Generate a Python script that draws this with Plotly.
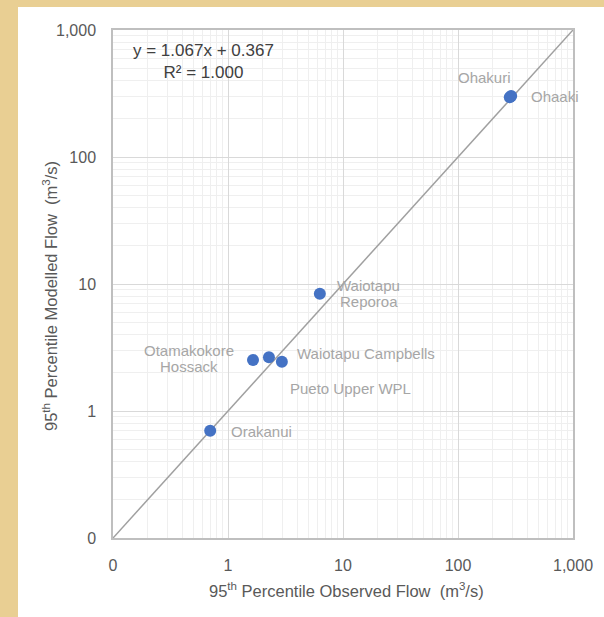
import math
import plotly.graph_objects as go

# ---- data ----
sites = ["Orakanui", "Otamakokore Hossack", "Waiotapu Campbells", "Pueto Upper WPL",
         "Waiotapu Reporoa", "Ohakuri", "Ohaaki"]
label_lines = [["Orakanui"], ["Otamakokore", "Hossack"], ["Waiotapu Campbells"], ["Pueto Upper WPL"],
               ["Waiotapu", "Reporoa"], ["Ohakuri"], ["Ohaaki"]]
observed = [0.70, 1.65, 2.27, 2.94, 6.29, 282, 290]
modelled = [0.70, 2.52, 2.65, 2.44, 8.39, 296, 302]
one_to_one = [0.1, 1000]
tick_vals = [0.1, 1, 10, 100, 1000]
tick_text = ["0", "1", "10", "100", "1,000"]
minor_vals = [m * 10 ** e for e in range(-1, 3) for m in range(2, 10)]
equation = "y = 1.067x + 0.367<br>R² = 1.000"

# label offsets (pixels) relative to the point
label_dx = [19, -64, 97, 69, 49, -25, 18]
label_dy = [-1, 2, 4, -27, 0, 20, 0]
label_anchor = ["left", "center", "center", "center", "center", "center", "left"]
LINE_GAP = 16

FONT = "Liberation Sans, Arial, sans-serif"
BEIGE = "#E9CF93"
W, H = 604, 617
L, R, T, B = 113, 31, 30, 79
pw, ph = W - L - R, H - T - B

fig = go.Figure()
fig.add_trace(go.Scatter(x=one_to_one, y=one_to_one, mode="lines",
                         line=dict(color="#a0a0a0", width=1.5), hoverinfo="skip", showlegend=False))
fig.add_trace(go.Scatter(x=observed, y=modelled, mode="markers", text=sites,
                         marker=dict(color="#4472C4", size=12), showlegend=False))

for xv, yv, lines, dx, dy, anc in zip(observed, modelled, label_lines, label_dx, label_dy, label_anchor):
    n = len(lines)
    for i, line in enumerate(lines):
        off = ((n - 1) / 2 - i) * LINE_GAP
        fig.add_annotation(x=math.log10(xv), y=math.log10(yv), text=line,
                           showarrow=False, xshift=dx, yshift=dy + off, xanchor=anc, yanchor="middle",
                           align="center", font=dict(family=FONT, size=15, color="#a6a6a6"))

# equation
fig.add_annotation(xref="paper", yref="paper", x=(203 - L) / pw, y=(H - B - 61) / ph,
                   text=equation, showarrow=False, xanchor="center", yanchor="middle", align="center",
                   font=dict(family=FONT, size=17, color="#404040"))

# axis titles
fig.add_annotation(xref="paper", yref="paper", x=0.5, y=0, xshift=3, yshift=-52,
                   text="95<sup>th</sup> Percentile Observed Flow  (m<sup>3</sup>/s)",
                   showarrow=False, xanchor="center", yanchor="middle",
                   font=dict(family=FONT, size=16.5, color="#595959"))
fig.add_annotation(xref="paper", yref="paper", x=0, y=0.5, xshift=-63, yshift=-12,
                   text="95<sup>th</sup> Percentile Modelled Flow  (m<sup>3</sup>/s)",
                   showarrow=False, textangle=-90, xanchor="center", yanchor="middle",
                   font=dict(family=FONT, size=16.5, color="#595959"))

# white panel over textured paper
fig.add_shape(type="rect", xref="paper", yref="paper", layer="below",
              x0=(18 - L) / pw, x1=(W + 10 - L) / pw,
              y0=(H - B - (H + 10)) / ph, y1=(H - B - 7) / ph,
              fillcolor="white", line=dict(width=0))

axis_common = dict(type="log", range=[-1, 3], tickmode="array", tickvals=tick_vals, ticktext=tick_text,
                   showgrid=True, gridcolor="#d9d9d9", gridwidth=1,
                   minor=dict(tickvals=minor_vals, showgrid=True, gridcolor="#efefef", gridwidth=1),
                   showline=True, linecolor="#bfbfbf", linewidth=1.5, mirror=True,
                   ticks="outside", tickcolor="rgba(0,0,0,0)",
                   tickfont=dict(family=FONT, size=16, color="#595959"), zeroline=False)

fig.update_xaxes(**axis_common, ticklen=12)
fig.update_yaxes(**axis_common, ticklen=12)

fig.update_layout(width=W, height=H, autosize=False,
                  margin=dict(l=L, r=R, t=T, b=B, pad=0),
                  paper_bgcolor=BEIGE, plot_bgcolor="white",
                  font=dict(family=FONT, color="#595959"))

fig.write_html("out.html", config={"displayModeBar": False},
               post_script="document.body.style.margin='0';document.body.style.overflow='hidden';"
                           "document.body.style.background='%s';" % BEIGE)
